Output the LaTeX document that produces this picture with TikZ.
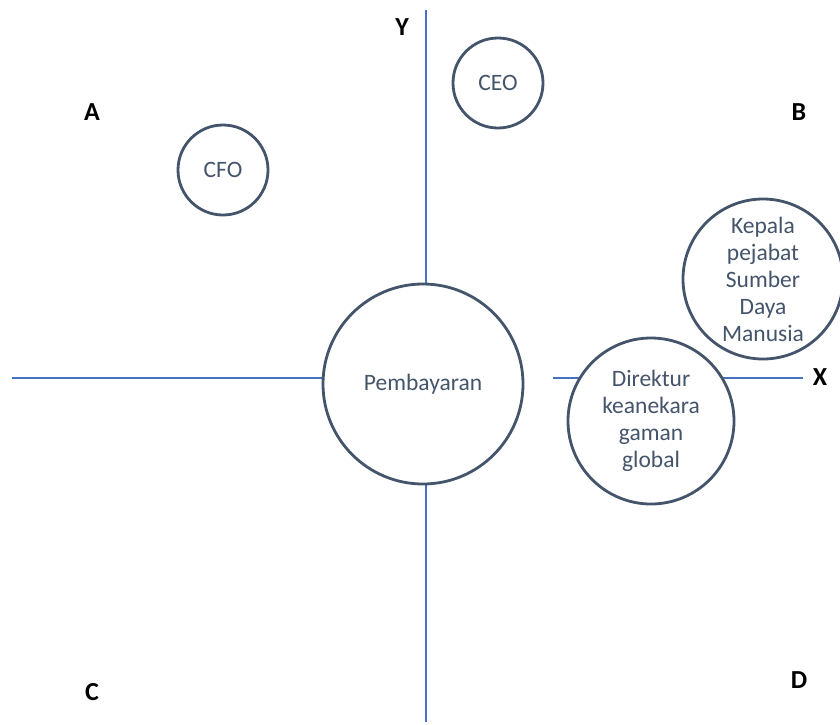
\documentclass[tikz,border=0pt]{standalone}
\usepackage{fontspec}
\setmainfont{Carlito}
\definecolor{axisblue}{HTML}{4472C4}
\definecolor{slate}{HTML}{44546A}
\begin{document}
\begin{tikzpicture}[x=1pt,y=-1pt,
  axis/.style={draw=axisblue,line width=2.8pt},
  role/.style={circle,draw=slate,line width=2.8pt,fill=white,inner sep=0pt,
    align=center,text=slate,font=\fontsize{23.5}{27}\selectfont},
  quad/.style={font=\fontsize{26}{30}\selectfont\bfseries,text=black}]
\useasboundingbox (0,0) rectangle (840,724);
% axes
\coordinate (ytop) at (426,10);
\coordinate (ybot) at (426,722);
\coordinate (xl) at (12,378);
\coordinate (xm) at (426,378);
\coordinate (xr0) at (553,378);
\coordinate (xr1) at (803,378);
\draw[axis] (ytop) -- (ybot);
\draw[axis] (xl) -- (xm);
\draw[axis] (xr0) -- (xr1);
% roles
\node[role,minimum size=200pt] (pay) at (423,384) {Pembayaran};
\node[role,minimum size=90pt] (ceo) at (498,83) {CEO};
\node[role,minimum size=90pt] (cfo) at (223,170) {CFO};
\node[role,minimum size=160pt] (hr) at (763,279) {Kepala\\pejabat\\Sumber\\Daya\\Manusia};
\node[role,minimum size=166pt] (div) at (651,421) {Direktur\\keanekara\\gaman\\global};
% quadrant and axis labels
\node[quad] (lY) at (402,27) {Y};
\node[quad] (lX) at (820,377) {X};
\node[quad] (lA) at (92,112) {A};
\node[quad] (lB) at (799,112) {B};
\node[quad] (lC) at (92,692) {C};
\node[quad] (lD) at (799,680) {D};
\end{tikzpicture}
\end{document}
